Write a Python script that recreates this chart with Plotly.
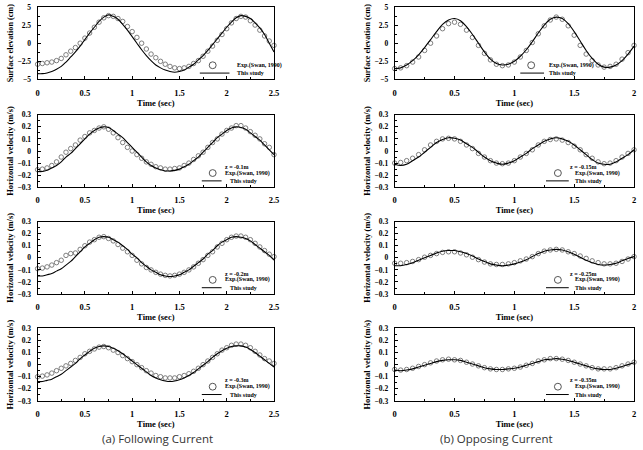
import plotly.graph_objects as go

W, H = 643, 450

# ---------------- data ----------------
t_follow = [0.0, 0.05, 0.1, 0.15, 0.2, 0.25, 0.3, 0.35, 0.4, 0.45, 0.5, 0.55, 0.6, 0.65, 0.7, 0.75,
            0.8, 0.85, 0.9, 0.95, 1.0, 1.05, 1.1, 1.15, 1.2, 1.25, 1.3, 1.35, 1.4, 1.45, 1.5, 1.55,
            1.6, 1.65, 1.7, 1.75, 1.8, 1.85, 1.9, 1.95, 2.0, 2.05, 2.1, 2.15, 2.2, 2.25, 2.3, 2.35,
            2.4, 2.45, 2.5]
t_oppose = [0.0, 0.05, 0.1, 0.15, 0.2, 0.25, 0.3, 0.35, 0.4, 0.45, 0.5, 0.55, 0.6, 0.65, 0.7, 0.75,
            0.8, 0.85, 0.9, 0.95, 1.0, 1.05, 1.1, 1.15, 1.2, 1.25, 1.3, 1.35, 1.4, 1.45, 1.5, 1.55,
            1.6, 1.65, 1.7, 1.75, 1.8, 1.85, 1.9, 1.95, 2.0]

# (a) Following current
fol_eta_model = [-4.2, -4.2, -4.1, -3.9, -3.6, -3.2, -2.6, -1.9, -1.2, -0.4, 0.5, 1.4, 2.2, 3.0, 3.6, 3.9,
                 3.7, 3.3, 2.6, 1.8, 0.9, 0.0, -0.9, -1.7, -2.4, -3.0, -3.4, -3.7, -3.9, -4.0, -3.9, -3.7,
                 -3.3, -2.9, -2.3, -1.7, -1.0, -0.2, 0.6, 1.4, 2.2, 2.9, 3.5, 3.8, 3.7, 3.4, 2.8, 2.1,
                 1.2, 0.0, -1.2]
fol_eta_exp = [-2.9, -2.8, -2.7, -2.6, -2.4, -2.1, -1.6, -1.1, -0.6, 0.0, 0.7, 1.4, 2.2, 2.9, 3.5, 3.8,
               3.7, 3.4, 3.0, 2.3, 1.6, 0.8, 0.0, -0.8, -1.5, -2.0, -2.5, -2.9, -3.2, -3.4, -3.5, -3.4,
               -3.2, -2.8, -2.4, -1.8, -1.1, -0.4, 0.4, 1.2, 2.0, 2.8, 3.4, 3.7, 3.6, 3.1, 2.5, 1.8,
               1.0, 0.3, -0.3]
fol_u1_model = [-0.17, -0.17, -0.16, -0.14, -0.12, -0.09, -0.05, -0.02, 0.02, 0.06, 0.10, 0.14, 0.17, 0.19, 0.20, 0.195,
                0.17, 0.14, 0.11, 0.07, 0.03, -0.01, -0.05, -0.09, -0.12, -0.14, -0.155, -0.165, -0.165, -0.16, -0.15, -0.13,
                -0.11, -0.08, -0.05, -0.01, 0.03, 0.07, 0.11, 0.14, 0.17, 0.19, 0.20, 0.195, 0.18, 0.15, 0.12, 0.09,
                0.05, 0.01, -0.03]
fol_u1_exp = [-0.155, -0.15, -0.14, -0.12, -0.09, -0.05, -0.01, 0.02, 0.05, 0.09, 0.12, 0.15, 0.17, 0.19, 0.20, 0.18,
              0.15, 0.11, 0.07, 0.03, 0.0, -0.03, -0.06, -0.09, -0.11, -0.13, -0.14, -0.15, -0.15, -0.145, -0.14, -0.12,
              -0.10, -0.07, -0.04, -0.01, 0.03, 0.07, 0.10, 0.14, 0.17, 0.19, 0.21, 0.21, 0.19, 0.16, 0.13, 0.10,
              0.06, 0.03, -0.03]
fol_u2_model = [-0.15, -0.15, -0.14, -0.13, -0.11, -0.09, -0.06, -0.03, 0.01, 0.05, 0.09, 0.12, 0.15, 0.17, 0.175, 0.17,
                0.15, 0.13, 0.10, 0.07, 0.03, 0.0, -0.04, -0.07, -0.10, -0.12, -0.14, -0.15, -0.155, -0.15, -0.14, -0.12,
                -0.10, -0.07, -0.04, -0.01, 0.03, 0.06, 0.10, 0.13, 0.15, 0.17, 0.175, 0.17, 0.16, 0.14, 0.11, 0.08,
                0.05, 0.02, -0.02]
fol_u2_exp = [-0.09, -0.085, -0.075, -0.06, -0.04, -0.02, 0.02, 0.035, 0.04, 0.07, 0.10, 0.13, 0.15, 0.17, 0.175, 0.16,
              0.14, 0.11, 0.08, 0.05, 0.02, -0.02, -0.05, -0.08, -0.10, -0.12, -0.135, -0.145, -0.15, -0.145, -0.135, -0.12,
              -0.10, -0.075, -0.045, -0.015, 0.02, 0.05, 0.09, 0.12, 0.15, 0.17, 0.18, 0.18, 0.17, 0.15, 0.12, 0.09,
              0.06, 0.03, 0.01]
fol_u3_model = [-0.14, -0.14, -0.13, -0.12, -0.10, -0.08, -0.05, -0.02, 0.01, 0.05, 0.08, 0.11, 0.135, 0.15, 0.155, 0.15,
                0.135, 0.115, 0.09, 0.06, 0.03, 0.0, -0.03, -0.06, -0.09, -0.11, -0.125, -0.135, -0.14, -0.135, -0.125, -0.11,
                -0.09, -0.065, -0.035, -0.005, 0.025, 0.06, 0.09, 0.115, 0.135, 0.15, 0.155, 0.155, 0.145, 0.125, 0.10, 0.07,
                0.04, 0.01, -0.02]
fol_u3_exp = [-0.10, -0.095, -0.085, -0.07, -0.05, -0.03, -0.01, 0.01, 0.035, 0.06, 0.09, 0.11, 0.13, 0.145, 0.15, 0.14,
              0.12, 0.10, 0.075, 0.05, 0.025, 0.0, -0.025, -0.05, -0.07, -0.09, -0.10, -0.11, -0.11, -0.11, -0.10, -0.09,
              -0.075, -0.055, -0.03, 0.0, 0.03, 0.06, 0.09, 0.12, 0.14, 0.16, 0.17, 0.17, 0.16, 0.14, 0.11, 0.08,
              0.05, 0.03, 0.01]

# (b) Opposing current
opp_eta_model = [-3.5, -3.4, -3.0, -2.4, -1.6, -0.6, 0.5, 1.6, 2.6, 3.2, 3.4, 3.1, 2.3, 1.2, 0.0, -1.2,
                 -2.2, -2.8, -3.0, -2.9, -2.5, -1.8, -0.9, 0.2, 1.4, 2.5, 3.3, 3.6, 3.4, 2.7, 1.6, 0.3,
                 -1.0, -2.1, -2.9, -3.3, -3.3, -3.0, -2.4, -1.5, -0.4]
opp_eta_exp = [-3.5, -3.4, -3.1, -2.6, -1.9, -1.0, 0.0, 1.0, 2.0, 2.7, 2.9, 2.6, 1.8, 0.8, -0.3, -1.4,
               -2.3, -2.9, -3.1, -3.0, -2.6, -1.9, -1.0, 0.1, 1.3, 2.4, 3.2, 3.6, 3.3, 2.4, 1.1, -0.3,
               -1.5, -2.4, -3.0, -3.3, -3.2, -2.9, -2.2, -1.3, -0.3]
opp_u1_model = [-0.11, -0.12, -0.11, -0.08, -0.05, -0.01, 0.03, 0.07, 0.095, 0.11, 0.105, 0.09, 0.06, 0.03, -0.01, -0.05,
                -0.08, -0.10, -0.11, -0.10, -0.08, -0.05, -0.02, 0.02, 0.05, 0.08, 0.10, 0.11, 0.10, 0.08, 0.05, 0.01,
                -0.03, -0.07, -0.10, -0.11, -0.11, -0.09, -0.06, -0.03, 0.01]
opp_u1_exp = [-0.10, -0.095, -0.08, -0.06, -0.03, 0.01, 0.05, 0.08, 0.10, 0.105, 0.10, 0.08, 0.05, 0.02, -0.02, -0.05,
              -0.08, -0.10, -0.105, -0.10, -0.08, -0.05, -0.02, 0.01, 0.05, 0.08, 0.095, 0.10, 0.09, 0.07, 0.04, 0.01,
              -0.03, -0.06, -0.09, -0.105, -0.10, -0.08, -0.05, -0.02, 0.01]
opp_u2_model = [-0.065, -0.065, -0.055, -0.04, -0.02, 0.0, 0.02, 0.04, 0.055, 0.06, 0.06, 0.05, 0.035, 0.015, -0.01, -0.03,
                -0.05, -0.06, -0.065, -0.06, -0.05, -0.035, -0.015, 0.01, 0.035, 0.055, 0.065, 0.07, 0.065, 0.05, 0.03, 0.005,
                -0.02, -0.04, -0.055, -0.06, -0.055, -0.045, -0.025, -0.005, 0.01]
opp_u2_exp = [-0.045, -0.045, -0.04, -0.03, -0.015, 0.005, 0.02, 0.035, 0.045, 0.05, 0.05, 0.04, 0.025, 0.005, -0.015, -0.035,
              -0.05, -0.055, -0.055, -0.05, -0.04, -0.025, -0.01, 0.01, 0.035, 0.055, 0.065, 0.07, 0.065, 0.05, 0.035, 0.015,
              -0.005, -0.025, -0.04, -0.05, -0.05, -0.045, -0.03, -0.01, 0.01]
opp_u3_model = [-0.045, -0.05, -0.045, -0.035, -0.02, -0.005, 0.01, 0.025, 0.035, 0.04, 0.04, 0.035, 0.02, 0.005, -0.01, -0.025,
                -0.035, -0.04, -0.04, -0.035, -0.03, -0.02, -0.005, 0.01, 0.025, 0.04, 0.045, 0.05, 0.045, 0.035, 0.02, 0.005,
                -0.01, -0.025, -0.035, -0.04, -0.04, -0.03, -0.015, 0.0, 0.015]
opp_u3_exp = [-0.04, -0.045, -0.04, -0.03, -0.015, 0.0, 0.015, 0.03, 0.04, 0.045, 0.04, 0.035, 0.02, 0.005, -0.01, -0.025,
              -0.035, -0.04, -0.04, -0.035, -0.03, -0.02, -0.005, 0.01, 0.03, 0.04, 0.05, 0.05, 0.045, 0.035, 0.02, 0.005,
              -0.01, -0.025, -0.035, -0.035, -0.035, -0.025, -0.01, 0.005, 0.02]

depth_labels_follow = ["", "z = -0.1m", "z = -0.2m", "z = -0.3m"]
depth_labels_oppose = ["", "z = -0.15m", "z = -0.25m", "z = -0.35m"]
y_titles = ["Surface elevation (cm)", "Horizontal velocity (m/s)",
            "Horizontal velocity (m/s)", "Horizontal velocity (m/s)"]
legend_exp = "Exp.(Swan, 1990)"
legend_model = "This study"
captions = ["(a) Following Current", "(b) Opposing Current"]

# ---------------- layout helpers ----------------
def fx(p):
    return p / W

def fy(p):
    return 1 - p / H

row_px = [(3, 77), (113, 187), (222, 296), (331, 405)]
col_px = [(36, 275), (397, 639)]

panels = [
    (0, 0, t_follow, fol_eta_model, fol_eta_exp, depth_labels_follow[0]),
    (0, 1, t_follow, fol_u1_model, fol_u1_exp, depth_labels_follow[1]),
    (0, 2, t_follow, fol_u2_model, fol_u2_exp, depth_labels_follow[2]),
    (0, 3, t_follow, fol_u3_model, fol_u3_exp, depth_labels_follow[3]),
    (1, 0, t_oppose, opp_eta_model, opp_eta_exp, depth_labels_oppose[0]),
    (1, 1, t_oppose, opp_u1_model, opp_u1_exp, depth_labels_oppose[1]),
    (1, 2, t_oppose, opp_u2_model, opp_u2_exp, depth_labels_oppose[2]),
    (1, 3, t_oppose, opp_u3_model, opp_u3_exp, depth_labels_oppose[3]),
]

# legend glyph/text x positions (px): circle, exp text, line x0, line x1, model text, z text
legend_pos = {
    (0, True): (213, 236, 200, 230, 236, 223),
    (0, False): (213, 223, 202, 222, 228, 223),
    (1, True): (535, 551, 524, 548, 551, 572),
    (1, False): (562, 577, 550, 573, 577, 572),
}

SERIF = "Liberation Serif"
fig = go.Figure()
layout = dict(width=W, height=H, margin=dict(l=0, r=0, t=0, b=0),
              paper_bgcolor="white", plot_bgcolor="white", showlegend=False)
annotations = []
shapes = []

for k, (c, r, t, model, exp, zlab) in enumerate(panels):
    n = k + 1
    xid = "x" if n == 1 else f"x{n}"
    yid = "y" if n == 1 else f"y{n}"
    xkey = "xaxis" if n == 1 else f"xaxis{n}"
    ykey = "yaxis" if n == 1 else f"yaxis{n}"
    l, rgt = col_px[c]
    top, bot = row_px[r]
    tmax = t[-1]
    fig.add_trace(go.Scatter(x=t, y=exp, mode="markers", xaxis=xid, yaxis=yid,
                             marker=dict(symbol="circle-open", size=4.5, color="#707070",
                                         line=dict(width=0.9, color="#707070")),
                             name=legend_exp, cliponaxis=False))
    fig.add_trace(go.Scatter(x=t, y=model, mode="lines", xaxis=xid, yaxis=yid,
                             line=dict(color="black", width=1.1, shape="spline"),
                             name=legend_model))
    layout[xkey] = dict(domain=[fx(l), fx(rgt)], anchor=yid, range=[0, tmax], dtick=0.5,
                        showline=True, mirror=True, linecolor="black", linewidth=1,
                        ticks="inside", ticklen=3, tickcolor="black",
                        minor=dict(ticks="inside", ticklen=2, dtick=0.25, tickcolor="black"),
                        showgrid=False, zeroline=False,
                        tickfont=dict(family=SERIF, size=8.5, color="black", weight="bold"),
                        ticklabelstandoff=5,
                        title=dict(text="Time (sec)", standoff=1,
                                   font=dict(family=SERIF, size=8.5, color="black", weight="bold")))
    if r == 0:
        yr, ydt, ymin, tsize = [-5, 5], 2.5, 1.25, 8.2
    else:
        yr, ydt, ymin, tsize = [-0.3, 0.3], 0.1, 0.05, 8.5
    layout[ykey] = dict(domain=[fy(bot), fy(top)], anchor=xid, range=yr, dtick=ydt,
                        showline=True, mirror=True, linecolor="black", linewidth=1,
                        ticks="inside", ticklen=3, tickcolor="black",
                        minor=dict(ticks="inside", ticklen=2, dtick=ymin, tickcolor="black"),
                        showgrid=False, zeroline=False,
                        tickfont=dict(family=SERIF, size=7.5, color="black", weight="bold"),
                        ticklabelstandoff=4,
                        title=dict(text=y_titles[r], standoff=2,
                                   font=dict(family=SERIF, size=tsize, color="black", weight="bold")))

    # legend block (text + key glyphs), positioned relative to the panel bottom
    circ_x, exp_x, line_x0, line_x1, model_x, z_x = legend_pos[(c, r == 0)]
    y_exp = bot - 14.5
    y_mod = bot - 6.5
    y_z = bot - 21
    leg_font = dict(family=SERIF, size=6, color="black", weight="bold")
    if zlab:
        annotations.append(dict(x=fx(z_x), y=fy(y_z), xref="paper", yref="paper", text=zlab,
                                showarrow=False, xanchor="left", yanchor="middle", font=leg_font))
    annotations.append(dict(x=fx(exp_x), y=fy(y_exp), xref="paper", yref="paper", text=legend_exp,
                            showarrow=False, xanchor="left", yanchor="middle", font=leg_font))
    annotations.append(dict(x=fx(model_x), y=fy(y_mod), xref="paper", yref="paper", text=legend_model,
                            showarrow=False, xanchor="left", yanchor="middle", font=leg_font))
    shapes.append(dict(type="circle", xref="paper", yref="paper",
                       x0=fx(circ_x - 3.5), x1=fx(circ_x + 3.5), y0=fy(y_exp + 3.5), y1=fy(y_exp - 3.5),
                       line=dict(color="#555555", width=1)))
    shapes.append(dict(type="line", xref="paper", yref="paper",
                       x0=fx(line_x0), x1=fx(line_x1), y0=fy(y_mod), y1=fy(y_mod),
                       line=dict(color="black", width=1)))

for i, cap in enumerate(captions):
    cx = 157 if i == 0 else 500
    annotations.append(dict(x=fx(cx), y=fy(443), xref="paper", yref="paper", text=cap,
                            showarrow=False, xanchor="center", yanchor="middle",
                            font=dict(family="Open Sans", size=11.5, color="#333333")))

layout["annotations"] = annotations
layout["shapes"] = shapes
fig.update_layout(**layout)
fig.write_html("out.html")
